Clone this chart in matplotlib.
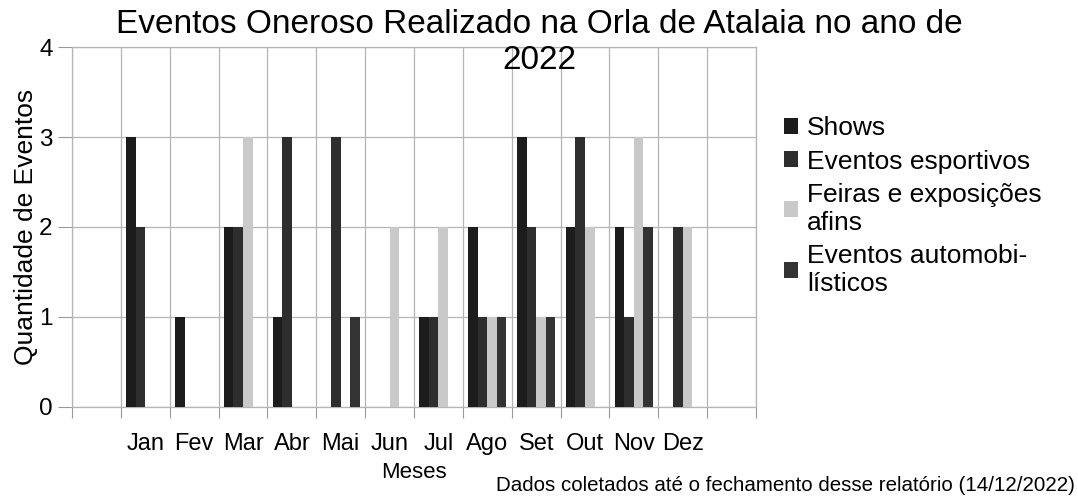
import numpy as np
import matplotlib
matplotlib.use("Agg")
import matplotlib.pyplot as plt

plt.rcParams['font.family'] = ['Liberation Sans', 'DejaVu Sans']

# Data
months = ['Jan', 'Fev', 'Mar', 'Abr', 'Mai', 'Jun', 'Jul', 'Ago', 'Set', 'Out', 'Nov', 'Dez']
shows = [3, 1, 2, 1, 0, 0, 1, 2, 3, 2, 2, 0]
esportivos = [2, 0, 2, 3, 3, 0, 1, 1, 2, 3, 1, 2]
feiras = [0, 0, 3, 0, 0, 2, 2, 1, 1, 2, 3, 2]
automobilisticos = [0, 0, 0, 0, 1, 0, 0, 1, 1, 0, 2, 0]

series = [
    ('Shows', shows, '#1c1c1c'),
    ('Eventos esportivos', esportivos, '#2e2e2e'),
    ('Feiras e exposições\nafins', feiras, '#c9c9c9'),
    ('Eventos automobi-\nlísticos', automobilisticos, '#333333'),
]

fig = plt.figure(figsize=(10.78, 4.99), dpi=100)
ax = fig.add_axes([0.0668, 0.1844, 0.6345, 0.7214])

centers = np.arange(len(months)) + 1.5
width = 0.196
offsets = (np.arange(len(series)) - 1.5) * width

for (label, vals, color), off in zip(series, offsets):
    ax.bar(centers + off, vals, width=width, color=color, label=label, zorder=3)

ax.set_xlim(0, 14)
ax.set_ylim(0, 4)

# gridlines on integer positions, month labels between them
ax.set_xticks(np.arange(0, 15))
ax.set_xticklabels([])
ax.set_xticks(centers, minor=True)
ax.set_xticklabels(months, minor=True, fontsize=17)
ax.tick_params(axis='x', which='minor', length=0, pad=19)
ax.tick_params(axis='x', which='major', length=8, direction='out', color='#999999')
ax.set_yticks(range(5))
ax.tick_params(axis='y', labelsize=17.5, length=10, color='#999999', pad=4)

ax.grid(True, which='major', color='#b5b5b5', linewidth=0.9, zorder=0)
for sp in ax.spines.values():
    sp.set_color('#b5b5b5')
    sp.set_linewidth(0.9)

ax.set_xlabel('Meses', fontsize=16, labelpad=5)
ax.set_ylabel('Quantidade de Eventos', fontsize=19)
ax.yaxis.set_label_coords(-0.05, 0.5)

fig.text(0.5, 0.982, 'Eventos Oneroso Realizado na Orla de Atalaia no ano de\n2022',
         ha='center', va='top', fontsize=24, linespacing=1.2)
fig.text(0.997, 0.028, 'Dados coletados até o fechamento desse relatório (14/12/2022)',
         ha='right', va='center', fontsize=14.8)

leg = ax.legend(loc='upper left', bbox_to_anchor=(0.7174, 0.788),
                bbox_transform=fig.transFigure, frameon=False, fontsize=19,
                handlelength=0.53, handleheight=0.53, handletextpad=0.34,
                labelspacing=0.35, borderaxespad=0)
for t in leg.get_texts():
    t.set_linespacing(1.2)

fig.savefig('out.png', dpi=100)
